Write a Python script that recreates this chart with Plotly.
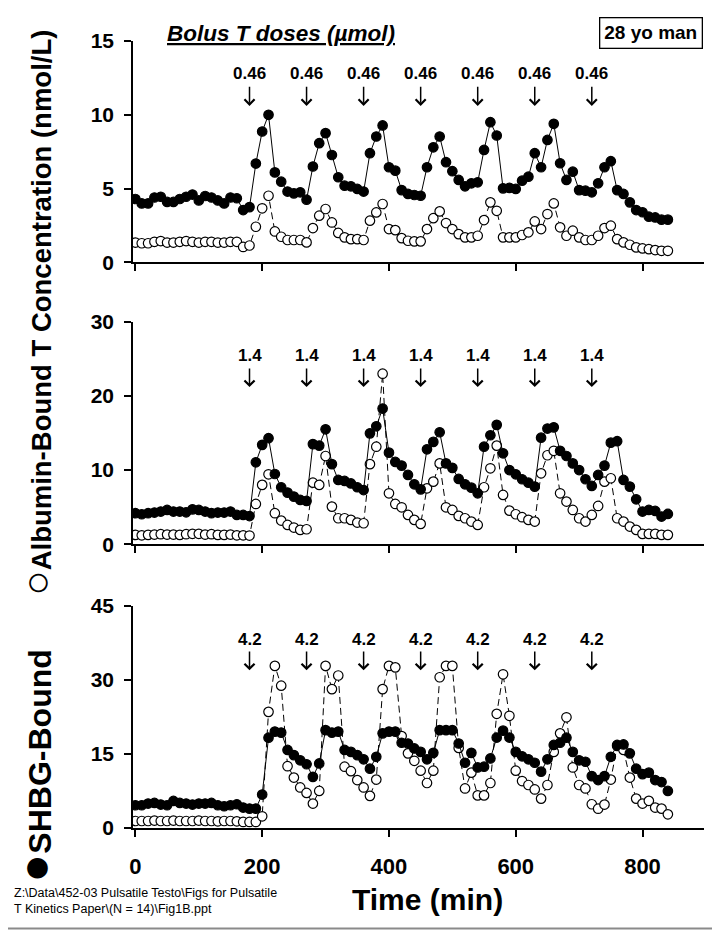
import plotly.graph_objects as go

# ---------------- data ----------------
time_min = [0, 10, 20, 30, 40, 50, 60, 70, 80, 90, 100, 110, 120, 130, 140, 150, 160, 170, 180,
            190, 200, 210, 220, 230, 240, 250, 260, 270, 280, 290, 300, 310, 320, 330, 340, 350,
            360, 370, 380, 390, 400, 410, 420, 430, 440, 450, 460, 470, 480, 490, 500, 510, 520,
            530, 540, 550, 560, 570, 580, 590, 600, 610, 620, 630, 640, 650, 660, 670, 680, 690,
            700, 710, 720, 730, 740, 750, 760, 770, 780, 790, 800, 810, 820, 830, 840]

# Panel 1 (0.46 umol boluses)
shbg_p1 = [4.3, 4.0, 4.0, 4.4, 4.45, 4.1, 4.1, 4.3, 4.45, 4.6, 4.2, 4.5, 4.4, 4.2, 4.0, 4.4, 4.35, 3.55, 3.75,
           6.7, 8.87, 10.0, 6.1, 5.47, 4.8, 4.68, 4.75, 4.25, 6.5,
           8.08, 8.76, 7.28, 5.77, 5.2, 5.16, 4.98, 4.8, 7.4, 8.53,
           9.28, 6.45, 6.22, 4.9, 4.64, 4.57, 4.52, 6.45, 7.8, 8.53,
           6.79, 6.18, 5.59, 5.16, 5.36, 5.43, 7.62, 9.5, 8.6, 5.02,
           5.05, 4.98, 5.54, 5.81, 7.4, 6.45, 8.3, 9.39, 6.72, 5.59,
           6.15, 4.9, 4.86, 4.75, 5.36, 6.45, 6.86, 4.9, 4.64, 4.07,
           3.55, 3.4, 3.1, 3.05, 2.9, 2.9]
alb_p1 = [1.35, 1.3, 1.3, 1.4, 1.45, 1.35, 1.35, 1.4, 1.45, 1.4, 1.35, 1.4, 1.4, 1.35, 1.35, 1.4, 1.4, 1.05, 1.15,
          2.42, 3.67, 4.52, 2.1, 1.74, 1.52, 1.52, 1.52, 1.36, 2.33,
          3.17, 3.62, 2.71, 2.0, 1.7, 1.58, 1.58, 1.52, 2.83, 3.39,
          3.96, 2.26, 2.19, 1.65, 1.47, 1.43, 1.43, 2.26, 3.0, 3.46,
          2.67, 2.26, 1.92, 1.7, 1.7, 1.81, 2.87, 4.07, 3.5, 1.7,
          1.7, 1.7, 1.86, 2.04, 2.78, 2.26, 3.28, 4.0, 2.38, 1.81,
          2.15, 1.7, 1.52, 1.52, 1.81, 2.33, 2.49, 1.58, 1.36, 1.2,
          1.02, 0.95, 0.9, 0.84, 0.79, 0.79]

# Panel 2 (1.4 umol boluses)
shbg_p2 = [4.18, 4.04, 4.18, 4.27, 4.4, 4.62, 4.4, 4.4, 4.3, 4.7, 4.62, 4.4, 4.18, 4.27, 4.27, 4.4, 3.95, 3.95, 3.8,
           11.05, 13.4, 14.3, 9.47, 7.68, 6.96, 6.42, 5.97, 5.84, 13.5,
           13.3, 15.5, 10.8, 8.67, 8.53, 8.2, 7.68, 7.3, 14.95, 15.9,
           18.3, 12.35, 11.1, 10.6, 9.34, 8.08, 7.4, 12.8, 13.8, 15.1,
           10.9, 10.3, 8.8, 8.08, 7.63, 6.87, 13.15, 14.7, 16.1, 12.26,
           10.0, 9.43, 8.76, 8.3, 7.77, 14.37, 15.6, 15.76, 12.6, 11.9,
           10.9, 10.0, 8.76, 7.86, 9.34, 10.6, 13.7, 13.9, 8.67, 7.77,
           6.06, 4.4, 4.62, 4.49, 3.73, 4.08]
alb_p2 = [1.26, 1.2, 1.26, 1.3, 1.35, 1.3, 1.3, 1.26, 1.35, 1.4, 1.4, 1.3, 1.35, 1.26, 1.26, 1.3, 1.2, 1.2, 1.17,
          5.43, 8.0, 9.43, 4.18, 3.19, 2.6, 2.25, 1.93, 2.02, 8.3,
          8.0, 11.9, 5.07, 3.5, 3.5, 3.28, 2.92, 2.83, 10.8, 13.15,
          23.0, 6.87, 5.43, 4.98, 3.95, 3.28, 2.74, 7.54, 8.44, 10.9,
          4.98, 4.62, 3.82, 3.5, 3.05, 2.6, 7.68, 10.24, 13.3, 6.65,
          4.53, 4.04, 3.64, 3.28, 3.05, 9.56, 12.0, 12.6, 6.87, 5.75,
          4.62, 3.5, 3.05, 3.95, 5.16, 8.44, 8.9, 3.5, 3.05, 2.38,
          1.93, 1.39, 1.39, 1.39, 1.26, 1.26]

# Panel 3 (4.2 umol boluses)
shbg_p3 = [4.6, 4.6, 4.94, 5.07, 4.74, 4.6, 5.48, 5.07, 4.94, 4.74, 4.94, 4.94, 5.07, 4.6, 4.4, 4.6, 4.8, 4.13, 3.92, 3.92,
           6.77, 18.27, 19.5, 19.3, 15.8, 14.75, 13.7, 12.9, 10.35, 13.06,
           19.8, 19.3, 19.5, 15.8, 15.4, 14.75, 13.9, 12.0, 14.4, 19.15,
           19.5, 19.5, 17.25, 17.1, 16.1, 15.4, 13.9, 15.2, 19.8, 19.8,
           19.8, 17.1, 13.2, 15.2, 12.25, 12.4, 14.07, 18.3, 19.7, 18.3,
           15.4, 14.5, 13.9, 13.2, 11.4, 13.9, 16.8, 17.25, 18.27, 15.4,
           13.7, 13.4, 10.5, 9.7, 10.5, 14.4, 16.8, 16.9, 15.1, 12.0,
           10.9, 11.2, 9.7, 9.3, 7.5]
alb_p3 = [1.42, 1.42, 1.42, 1.5, 1.42, 1.42, 1.5, 1.42, 1.42, 1.42, 1.5, 1.42, 1.42, 1.35, 1.42, 1.42, 1.35, 1.22, 1.22, 1.22,
          2.37, 23.5, 32.8, 28.8, 12.5, 10.2, 8.2, 7.1, 4.94, 7.5,
          32.8, 28.1, 30.85, 12.4, 11.5, 9.7, 8.2, 6.5, 9.8, 28.1,
          32.8, 32.5, 18.6, 15.1, 13.6, 11.6, 9.1, 11.6, 30.5, 32.8,
          32.8, 16.2, 8.0, 11.2, 6.6, 6.6, 9.1, 23.1, 31.1, 22.7,
          11.6, 9.5, 8.7, 7.8, 5.95, 8.7, 15.4, 19.15, 22.4, 12.25,
          8.7, 8.0, 4.8, 3.9, 4.74, 9.8, 16.6, 15.8, 10.2, 5.95,
          4.94, 5.5, 4.13, 3.92, 2.77]

bolus_times = [180, 270, 360, 450, 540, 630, 720]
dose_labels = ["0.46", "1.4", "4.2"]
y_ranges = [15, 30, 45]
y_ticks = [[0, 5, 10, 15], [0, 10, 20, 30], [0, 15, 30, 45]]
x_ticks = [0, 200, 400, 600, 800]
# arrow label / arrow tail / arrow tip heights (data units) per panel
label_y = [12.8, 25.5, 38.1]
arrow_tail = [12.0, 23.9, 36.0]
arrow_tip = [10.6, 21.2, 31.9]

shbg = [shbg_p1, shbg_p2, shbg_p3]
alb = [alb_p1, alb_p2, alb_p3]

# ---------------- layout geometry ----------------
# page body has an 8px margin; figure is sized so it fits the 720x938 window
OFF = 8
W, H = 720 - 2 * OFF, 938 - 2 * OFF
L, T = 133.3 - OFF, 40.7 - OFF
R = W - (704 - OFF)
B = H - (828.3 - OFF)
PH = H - T - B
PW = W - L - R
domains = [[0.7186, 1.0], [0.3606, 0.6432], [0.0, 0.2826]]

FONT = "Liberation Sans, Arial, sans-serif"


def px_x(p):
    # page pixel -> paper coordinate
    return (p - OFF - L) / PW


def px_y(p):
    return (H - B - (p - OFF)) / PH


fig = go.Figure()
annotations = []

for i in range(3):
    xa = "x" if i == 0 else f"x{i+1}"
    ya = "y" if i == 0 else f"y{i+1}"
    fig.add_trace(go.Scatter(
        x=time_min, y=alb[i], xaxis=xa, yaxis=ya, mode="lines+markers",
        line=dict(color="black", width=1, dash="7px,4px"),
        marker=dict(symbol="circle", size=9.5, color="white", line=dict(color="black", width=1.2)),
        showlegend=False, hoverinfo="skip"))
    fig.add_trace(go.Scatter(
        x=time_min, y=shbg[i], xaxis=xa, yaxis=ya, mode="lines+markers",
        line=dict(color="black", width=1),
        marker=dict(symbol="circle", size=9.5, color="black", line=dict(color="black", width=1.2)),
        showlegend=False, hoverinfo="skip"))
    for bt in bolus_times:
        annotations.append(dict(
            x=bt, y=label_y[i], xref=xa, yref=ya, text=f"<b>{dose_labels[i]}</b>",
            showarrow=False, font=dict(family=FONT, size=17, color="black"),
            xanchor="center", yanchor="middle"))
        annotations.append(dict(
            x=bt, y=arrow_tip[i], ax=bt, ay=arrow_tail[i], xref=xa, yref=ya,
            axref=xa, ayref=ya, text="", showarrow=True, arrowhead=4,
            arrowsize=1.3, arrowwidth=1.5, arrowcolor="black"))

axis_common = dict(showline=True, linecolor="black", linewidth=1.5, ticks="outside",
                   ticklen=7, tickwidth=1.5, tickcolor="black", showgrid=False, zeroline=False)

layout = dict(width=W, height=H, margin=dict(l=L, r=R, t=T, b=B, pad=0),
              paper_bgcolor="white", plot_bgcolor="white",
              font=dict(family=FONT, color="black"))

for i in range(3):
    xk = "xaxis" if i == 0 else f"xaxis{i+1}"
    yk = "yaxis" if i == 0 else f"yaxis{i+1}"
    ya = "y" if i == 0 else f"y{i+1}"
    xa = "x" if i == 0 else f"x{i+1}"
    layout[xk] = dict(axis_common, range=[-3.8, 897], domain=[0, 1], anchor=ya,
                      tickvals=x_ticks, ticktext=[str(v) for v in x_ticks],
                      showticklabels=(i == 2), ticklabelstandoff=11,
                      tickfont=dict(family=FONT, size=22, weight=700, color="black"))
    layout[yk] = dict(axis_common, range=[0, y_ranges[i]], domain=domains[i], anchor=xa,
                      tickvals=y_ticks[i], ticktext=[str(v) for v in y_ticks[i]],
                      ticklabelstandoff=6,
                      tickfont=dict(family=FONT, size=21, weight=700, color="black"))

fig.update_layout(**layout)

# titles / notes
annotations.append(dict(
    x=px_x(281), y=px_y(33), xref="paper", yref="paper",
    text="<b><i><u>Bolus T doses (µmol)</u></i></b>", showarrow=False,
    font=dict(family=FONT, size=22.5, color="black"), xanchor="center", yanchor="middle"))
annotations.append(dict(
    x=px_x(651), y=px_y(33), xref="paper", yref="paper",
    text="<b>28 yo man</b>", showarrow=False, bordercolor="black", borderwidth=1.3, borderpad=4,
    bgcolor="white", font=dict(family=FONT, size=19, color="black"),
    xanchor="center", yanchor="middle"))
ytitle = ('<b><span style="font-size:48px">●</span><span style="font-size:32px">SHBG-Bound</span>'
          + '&nbsp;' * 7 +
          '<span style="font-size:42px">○</span>Albumin-Bound T Concentration (nmol/L)</b>')
annotations.append(dict(
    x=px_x(35), y=px_y(456), xref="paper", yref="paper", textangle=-90,
    text=ytitle, showarrow=False,
    font=dict(family=FONT, size=27.5, color="black"),
    xanchor="center", yanchor="middle"))
annotations.append(dict(
    x=px_x(428), y=px_y(900), xref="paper", yref="paper",
    text="<b>Time (min)</b>", showarrow=False,
    font=dict(family=FONT, size=30, color="black"), xanchor="center", yanchor="middle"))
annotations.append(dict(
    x=px_x(12), y=px_y(901), xref="paper", yref="paper", align="left",
    text=r"Z:\Data\452-03 Pulsatile Testo\Figs for Pulsatile<br>T Kinetics Paper\(N = 14)\Fig1B.ppt",
    showarrow=False, font=dict(family=FONT, size=12.5, color="black"),
    xanchor="left", yanchor="middle"))

fig.update_layout(annotations=annotations)
fig.add_shape(type="line", xref="paper", yref="paper", x0=px_x(0), x1=px_x(720),
              y0=px_y(929), y1=px_y(929), line=dict(color="#8a8a8a", width=2))

fig.write_html("out.html")
